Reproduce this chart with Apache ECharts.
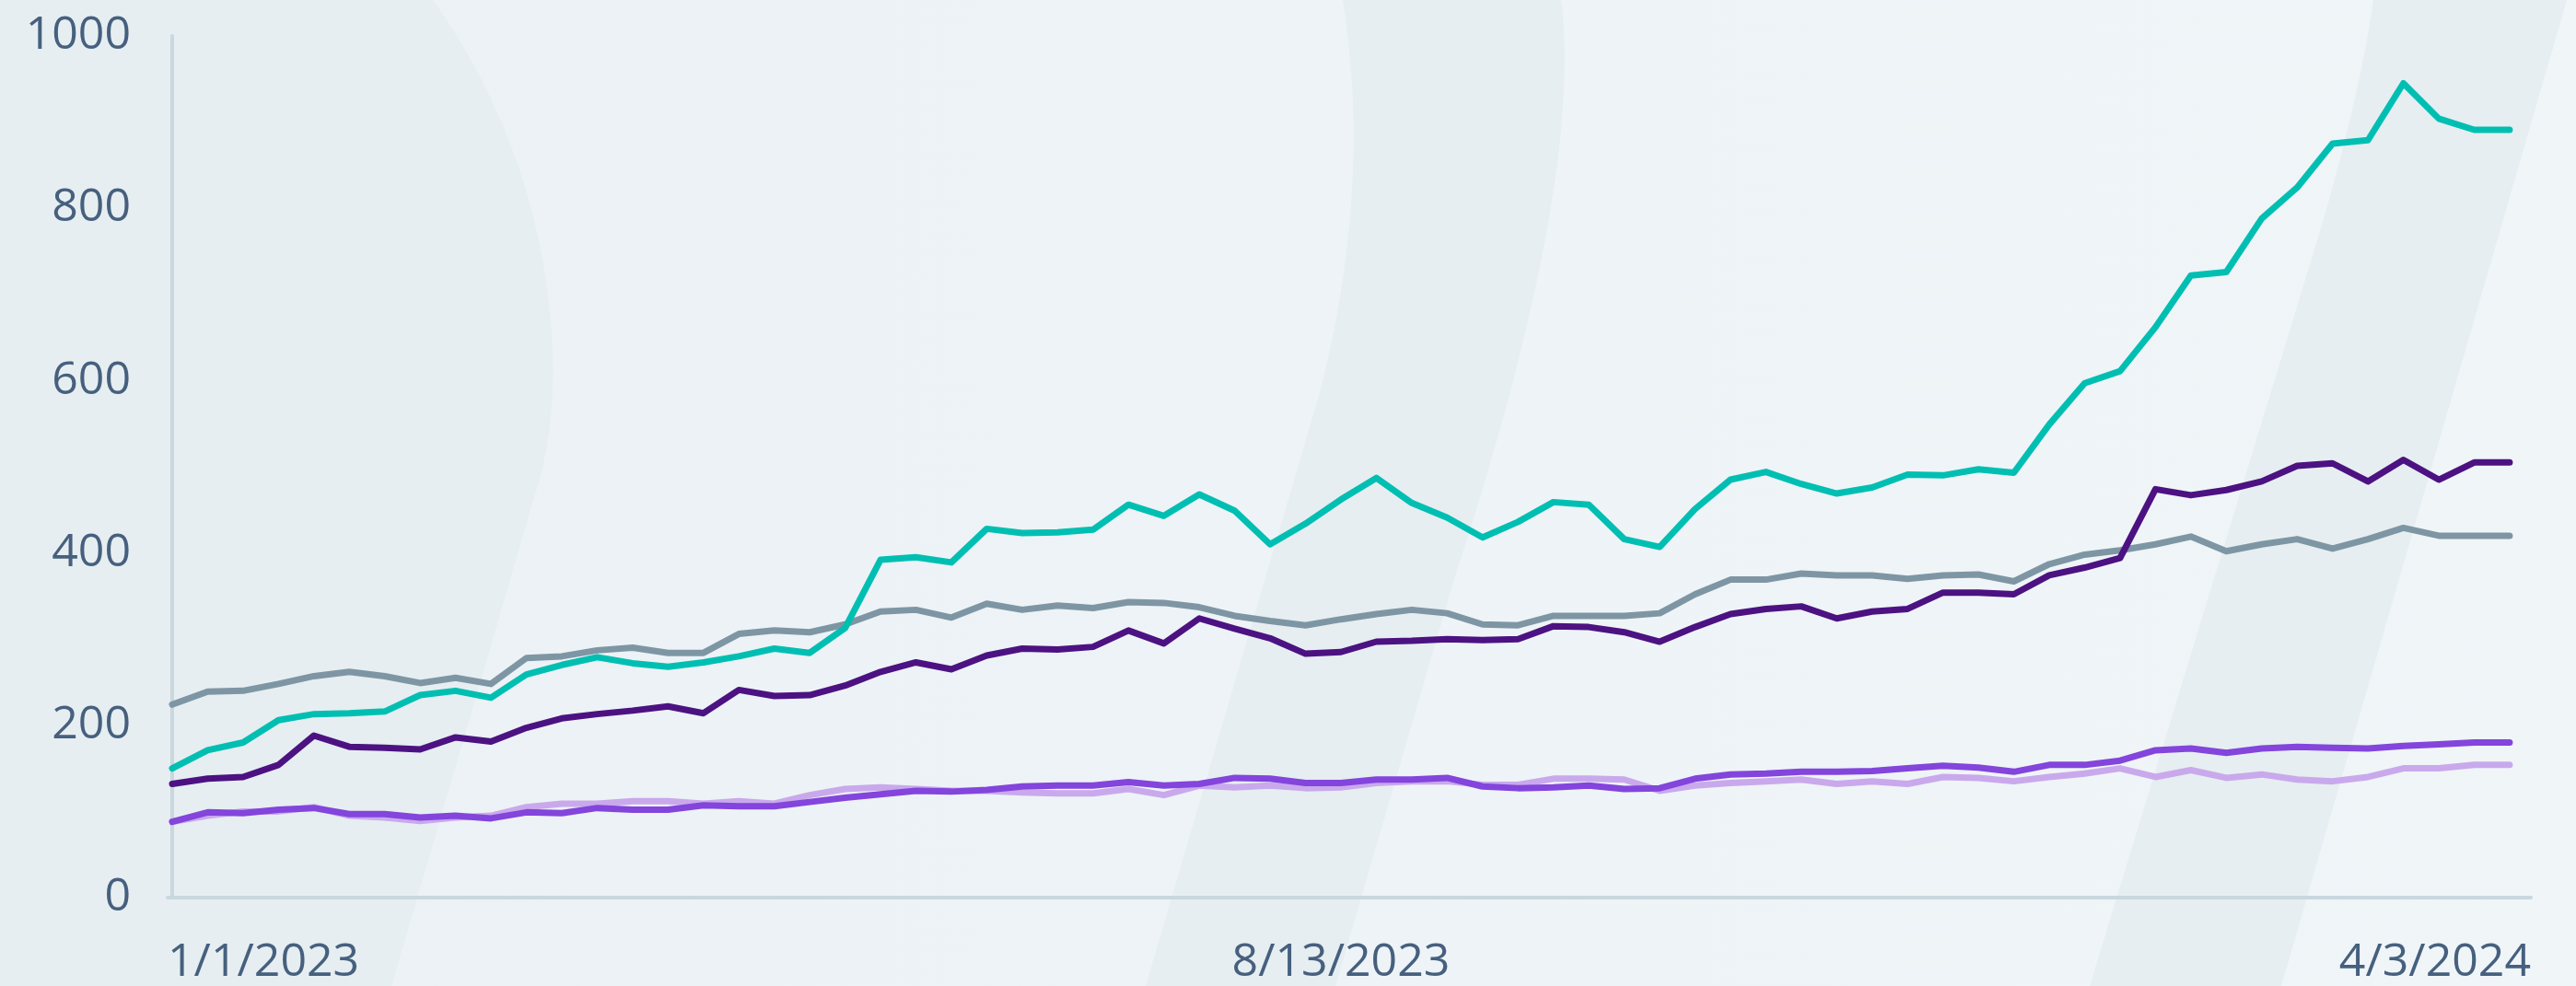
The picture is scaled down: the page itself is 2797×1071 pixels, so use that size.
<!DOCTYPE html>
<html>
<head>
<meta charset="utf-8">
<style>
  html, body { margin: 0; padding: 0; background: #eef3f7; }
  #chart { width: 2797px; height: 1071px; }
</style>
<script src="https://cdn.jsdelivr.net/npm/echarts@6/dist/echarts.min.js"></script>
</head>
<body>
<div id="chart"></div>
<script>
// ---- data ----
// 67 weekly points, index 0 = 1/1/2023, last = 4/3/2024
const xTickLabels = ['1/1/2023', '8/13/2023', '4/3/2024'];
const xTickIndex = [-0.13, 33, 66.6];
const yTicks = [0, 200, 400, 600, 800, 1000];

const teal = [150, 171, 180, 206, 213, 214, 216, 235, 240, 232, 259, 270, 279, 272, 268, 273, 280, 289, 284, 313,
  392, 395, 389, 428, 423, 424, 427, 456, 443, 468, 449, 410, 434, 462, 487, 458, 441, 418, 436, 459,
  456, 416, 407, 451, 485, 494, 480, 469, 476, 491, 490, 497, 493, 549, 597, 611, 662, 722, 726, 788,
  824, 875, 879, 945, 904, 891, 891];
const slate = [224, 239, 240, 248, 257, 262, 257, 249, 255, 248, 278, 280, 287, 290, 284, 284, 306, 310, 308, 317,
  332, 334, 325, 341, 334, 339, 336, 343, 342, 337, 327, 321, 316, 323, 329, 334, 330, 317, 316, 327,
  327, 327, 330, 352, 369, 369, 376, 374, 374, 370, 374, 375, 367, 387, 398, 403, 410, 419, 402, 410,
  416, 405, 416, 429, 420, 420, 420];
const darkPurple = [132, 138, 140, 154, 188, 175, 174, 172, 186, 181, 197, 208, 213, 217, 222, 214, 241, 234, 235, 246,
  262, 273, 265, 281, 289, 288, 291, 310, 295, 324, 312, 301, 283, 285, 297, 298, 300, 299, 300, 315,
  314, 308, 297, 314, 329, 335, 338, 324, 332, 335, 354, 354, 352, 374, 383, 394, 474, 467, 473, 483,
  501, 504, 483, 508, 485, 505, 505];
const violet = [88, 99, 98, 102, 104, 97, 97, 93, 95, 92, 99, 98, 104, 102, 102, 107, 106, 106, 111, 116,
  120, 124, 123, 125, 129, 130, 130, 134, 130, 132, 139, 138, 133, 133, 137, 137, 139, 129, 127, 128,
  130, 126, 127, 138, 143, 144, 146, 146, 147, 150, 153, 151, 146, 154, 154, 159, 171, 173, 168, 173,
  175, 174, 173, 176, 178, 180, 180];
const lavender = [88, 95, 100, 100, 105, 95, 93, 89, 93, 95, 105, 109, 109, 112, 112, 109, 112, 109, 119, 126,
  128, 126, 124, 124, 122, 121, 121, 126, 119, 130, 128, 130, 127, 128, 133, 135, 135, 131, 131, 138,
  138, 137, 124, 130, 133, 135, 137, 132, 135, 132, 140, 139, 135, 140, 144, 150, 140, 148, 139, 143,
  137, 135, 140, 150, 150, 154, 154];

// ---- decorative background shapes (pixel geometry, not data) ----
function quad(p0, c, p1, n) {
  const out = [];
  for (let k = 0; k <= n; k++) {
    const t = k / n, u = 1 - t;
    out.push([u * u * p0[0] + 2 * u * t * c[0] + t * t * p1[0], u * u * p0[1] + 2 * u * t * c[1] + t * t * p1[1]]);
  }
  return out;
}
const shape1 = [[0, 0]].concat(quad([470, 0], [590, 170], [600, 380], 24), quad([600, 380], [603, 470], [580, 540], 8),
  [[425, 1071], [0, 1071]]);
const shape2 = quad([1458, 0], [1490, 200], [1434, 423], 24).concat([[1244, 1071], [1450, 1071]],
  quad([1577, 635], [1720, 200], [1695, 0], 24));
const shape3 = quad([2577, 0], [2560, 120], [2506, 294], 16).concat([[2269, 1071], [2477, 1071], [2787, 0]]);

// ---- chart ----
const chart = echarts.init(document.getElementById('chart'), null, { renderer: 'canvas' });
const FONT = "'Open Sans', 'Noto Sans', sans-serif";
const TEXT = '#46607e';
const AXIS = '#c9d7de';
const SHAPE = '#e6eef1';

function mk(name, arr, color, z) {
  return {
    name: name,
    type: 'line',
    data: arr.map((v, i) => [i, v]),
    symbol: 'none',
    z: z,
    lineStyle: { color: color, width: 7, cap: 'round', join: 'round' },
    emphasis: { disabled: true },
    animation: false
  };
}

function xLabel(v) {
  let best = 0;
  for (let k = 1; k < xTickIndex.length; k++) {
    if (Math.abs(xTickIndex[k] - v) < Math.abs(xTickIndex[best] - v)) best = k;
  }
  return xTickLabels[best];
}

chart.setOption({
  backgroundColor: '#eef3f7',
  animation: false,
  graphic: [
    { type: 'rect', z: -200, silent: true, shape: { x: 0, y: 0, width: 2797, height: 1071 },
      style: { fill: { type: 'linear', x: 0, y: 0, x2: 1, y2: 0,
        colorStops: [{ offset: 0, color: '#ebf1f5' }, { offset: 1, color: '#f0f5f8' }] } } },
    { type: 'polygon', z: -100, silent: true, shape: { points: shape1 }, style: { fill: SHAPE } },
    { type: 'polygon', z: -100, silent: true, shape: { points: shape2 }, style: { fill: SHAPE } },
    { type: 'polygon', z: -100, silent: true, shape: { points: shape3 }, style: { fill: SHAPE } }
  ],
  grid: { left: 182, right: 49, top: 39, bottom: 96, containLabel: false, outerBoundsMode: 'none' },
  xAxis: {
    type: 'value',
    min: xTickIndex[0],
    max: xTickIndex[2],
    splitLine: { show: false },
    axisTick: { show: false },
    axisLine: { show: true, onZero: false, lineStyle: { color: AXIS, width: 4 } },
    axisLabel: {
      show: true,
      customValues: xTickIndex,
      formatter: function (v) { return xLabel(v); },
      fontFamily: FONT, fontSize: 50, color: TEXT, margin: 46,
      alignMinLabel: 'left', alignMaxLabel: 'right',
      hideOverlap: false, showMinLabel: true, showMaxLabel: true
    }
  },
  yAxis: {
    type: 'value',
    min: yTicks[0],
    max: yTicks[yTicks.length - 1],
    interval: 200,
    splitLine: { show: false },
    axisTick: { show: false },
    axisLine: { show: true, lineStyle: { color: AXIS, width: 4 } },
    axisLabel: {
      fontFamily: FONT, fontSize: 50, color: TEXT, margin: 40,
      padding: [13, 0, 0, 0],
      formatter: function (v) { return String(v); }
    }
  },
  series: [
    mk('lavender', lavender, '#c9a9ec', 2),
    mk('slate', slate, '#7e96a4', 3),
    mk('darkPurple', darkPurple, '#4c1282', 4),
    mk('teal', teal, '#00bfb2', 5),
    mk('violet', violet, '#8345dc', 6)
  ]
});
</script>
</body>
</html>
